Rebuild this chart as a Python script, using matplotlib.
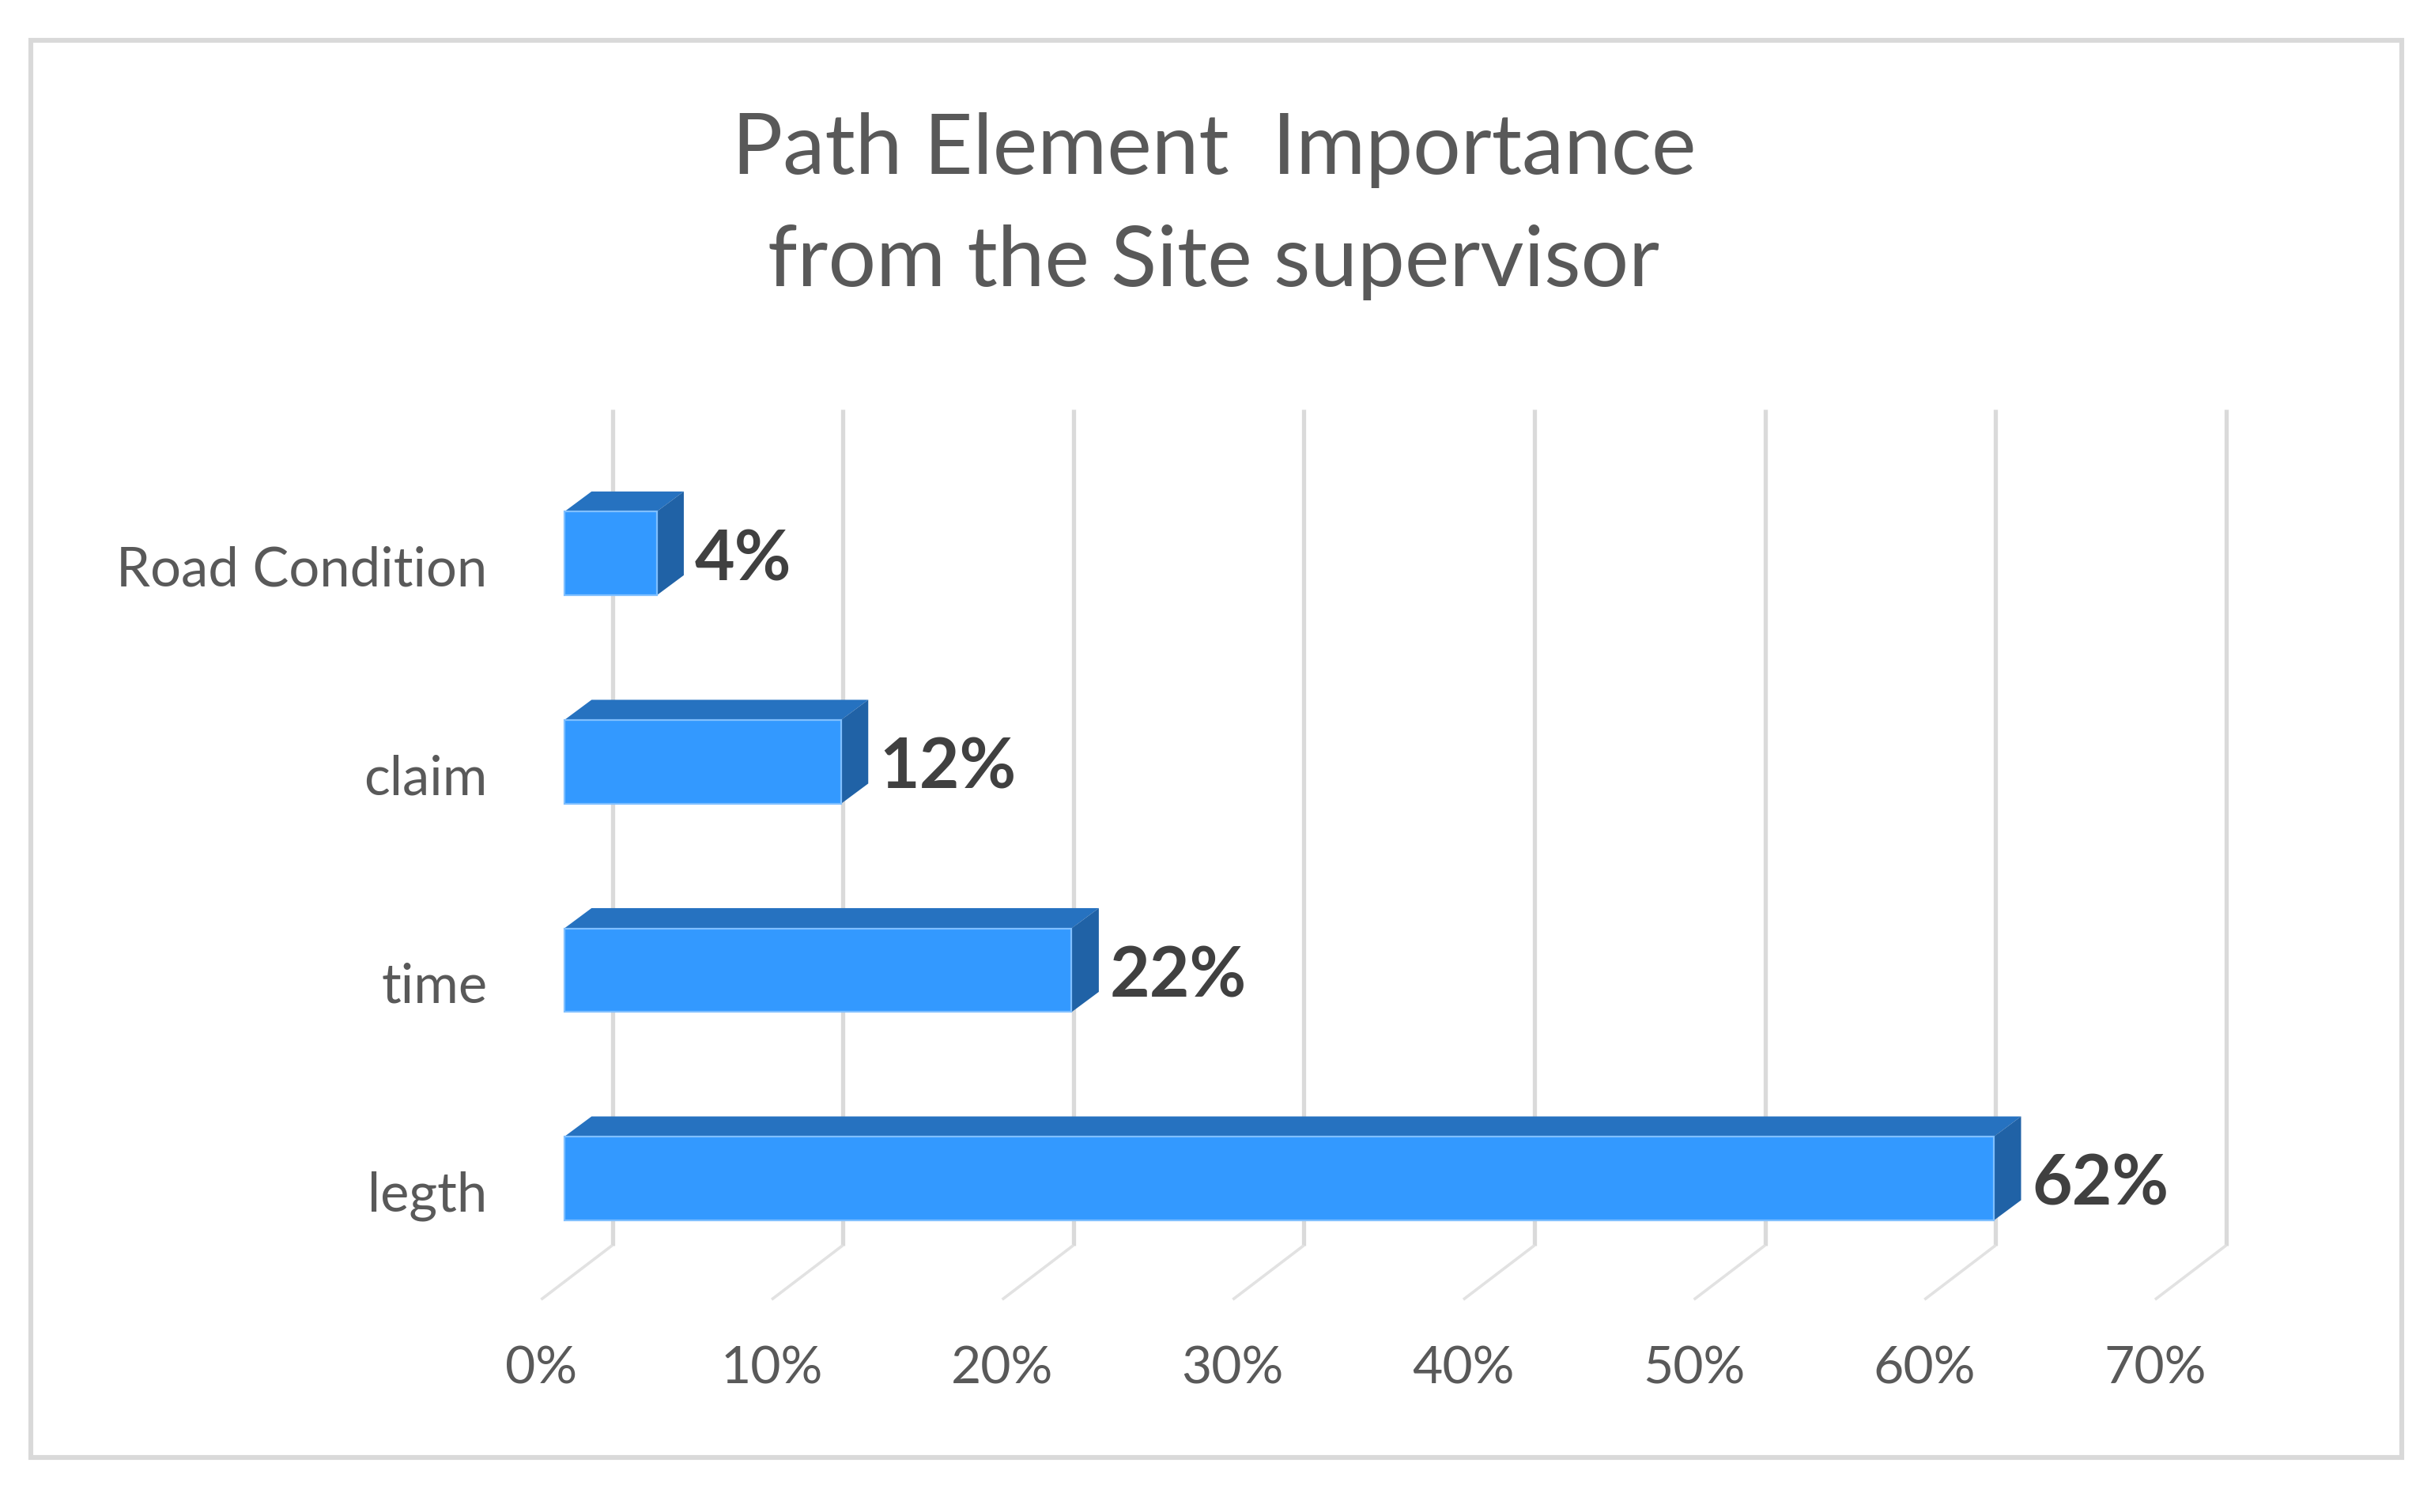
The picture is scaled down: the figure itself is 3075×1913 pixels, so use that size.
import matplotlib
matplotlib.use("Agg")
import matplotlib.pyplot as plt
from matplotlib.patches import Polygon, Rectangle
from matplotlib.ticker import FuncFormatter

categories = ["legth", "time", "claim", "Road Condition"]
values = [62, 22, 12, 4]
x_ticks = [0, 10, 20, 30, 40, 50, 60, 70]
title = "Path Element  Importance\nfrom the Site supervisor"

plt.rcParams["font.family"] = ["Lato", "DejaVu Sans"]

W, H = 1568.0, 975.0          # layout measured on the shrunk picture
fig = plt.figure(figsize=(30.75, 19.13), dpi=100, facecolor="white")
ax = fig.add_axes([349 / W, 1 - 838 / H, (1390 - 349) / W, (838 - 264) / H])
ax.set_xlim(0, 70)
ax.set_ylim(-0.521, 3.752)
for s in ax.spines.values():
    s.set_visible(False)
ax.patch.set_alpha(0)

# Outer frame
fig.add_artist(Rectangle((20 / W, 1 - 940 / H), (1549 - 20) / W, (940 - 26) / H,
                         transform=fig.transFigure, fill=False,
                         edgecolor="#D9D9D9", linewidth=4.4))

# Grid: wall lines and oblique floor lines
grid_dx = 3.09
floor_back = -0.2605
for v in x_ticks:
    ax.plot([v + grid_dx] * 2, [floor_back, 3.752], color="#DADADA", lw=3.8,
            solid_capstyle="butt", zorder=1, clip_on=False)
    ax.plot([v, v + grid_dx], [-0.521, floor_back], color="#E2E2E2", lw=2.6,
            solid_capstyle="butt", zorder=1, clip_on=False)

# Bars: front face from the axes, with oblique top and side faces
bar_x0 = 1.01
bar_h = 0.402
bar_shift = 0.06
dx = 1.18
dy = 0.097
ypos = list(range(len(categories)))
ax.barh([y + bar_shift for y in ypos], values, left=bar_x0, height=bar_h,
        color="#3399FF", edgecolor="#7FBFFF", linewidth=1.6, zorder=4)
for y, v in zip(ypos, values):
    c = y + bar_shift
    t, b = c + bar_h / 2, c - bar_h / 2
    r = bar_x0 + v
    ax.add_patch(Polygon([(bar_x0, t), (bar_x0 + dx, t + dy), (r + dx, t + dy), (r, t)],
                         closed=True, facecolor="#2672C0", edgecolor="none", zorder=3))
    ax.add_patch(Polygon([(r, t), (r + dx, t + dy), (r + dx, b + dy), (r, b)],
                         closed=True, facecolor="#2062A6", edgecolor="none", zorder=3))
    ax.annotate(f"{v}%", xy=(r, c), xytext=(35, -6), textcoords="offset points",
                ha="left", va="center", fontsize=63, fontweight="bold",
                color="#404040", zorder=5)

# Axis labels
ax.set_xticks(x_ticks)
ax.xaxis.set_major_formatter(FuncFormatter(lambda v, _: f"{v:.0f}%"))
ax.set_yticks(ypos)
ax.set_yticklabels(categories)
ax.tick_params(axis="x", length=0, pad=42, labelsize=47.5, labelcolor="#595959")
ax.tick_params(axis="y", length=0, pad=49, labelsize=49.5, labelcolor="#595959")

fig.text(783 / W, 1 - 133 / H, title, ha="center", va="center", fontsize=77,
         color="#595959", linespacing=1.6)

fig.savefig("out.png", dpi=100, facecolor="white")
